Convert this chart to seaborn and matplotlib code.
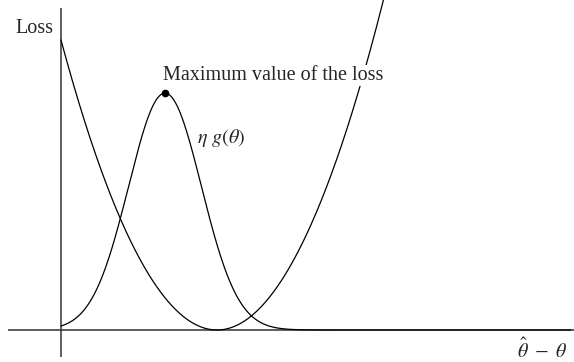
import numpy as np
import pandas as pd
import matplotlib
matplotlib.use("Agg")
import matplotlib.pyplot as plt
import seaborn as sns

# Curve parameters (data units)
loss_vertex = [3.0]        # x position of the parabola minimum
loss_at_zero = [10.0]      # loss value where the parabola meets the vertical axis
bump_center = [2.0]        # x of the maximum of eta*g(theta)
bump_height = [8.17]       # height of the maximum
bump_width = [0.70]        # spread of the bump
bump_floor = [0.0]

labels = ["Loss", "Maximum value of the loss", r"$\eta\ g(\theta)$", r"$\hat{\theta}\ -\ \theta$"]

sns.set_style("white")
plt.rcParams["font.family"] = ["Liberation Serif", "DejaVu Serif"]
plt.rcParams["mathtext.fontset"] = "stix"

x = np.linspace(0, 9.8, 800)
a = loss_at_zero[0] / loss_vertex[0] ** 2
loss = a * (x - loss_vertex[0]) ** 2
bump = bump_floor[0] + bump_height[0] * np.exp(-(x - bump_center[0]) ** 2 / (2 * bump_width[0] ** 2))
df = pd.DataFrame({"x": np.concatenate([x, x]),
                   "y": np.concatenate([loss, bump]),
                   "curve": ["loss"] * len(x) + ["bump"] * len(x)})

fig = plt.figure(figsize=(5.74, 3.62), dpi=100)
ax = fig.add_axes([0, 0, 1, 1])
sns.lineplot(data=df, x="x", y="y", units="curve", estimator=None, color="black",
             lw=0.9, ax=ax, legend=False, sort=False)

ax.set_xlim(-61 / 52, 513 / 52)
ax.set_ylim(-32 / 29, 330 / 29)
ax.axis("off")

ax.hlines(0, -53 / 52, 513 / 52, color="#333333", lw=1.1, zorder=1)
ax.vlines(0, -27 / 29, 322 / 29, color="#333333", lw=1.1, zorder=1)

ax.plot([bump_center[0]], [bump_height[0]], "o", color="black", ms=4.5, zorder=5)

ax.text(-0.885, 10.24, labels[0], fontsize=14.5, va="baseline", ha="left")
ax.text(1.96, 8.62, labels[1], fontsize=14.5, va="baseline", ha="left", zorder=4,
        bbox=dict(facecolor="white", edgecolor="none", pad=0.5))
ax.text(2.62, 6.45, labels[2], fontsize=14.5, va="baseline", ha="left")
ax.text(8.77, -0.98, labels[3], fontsize=14.5, va="baseline", ha="left")

fig.savefig("out.png", dpi=100)
